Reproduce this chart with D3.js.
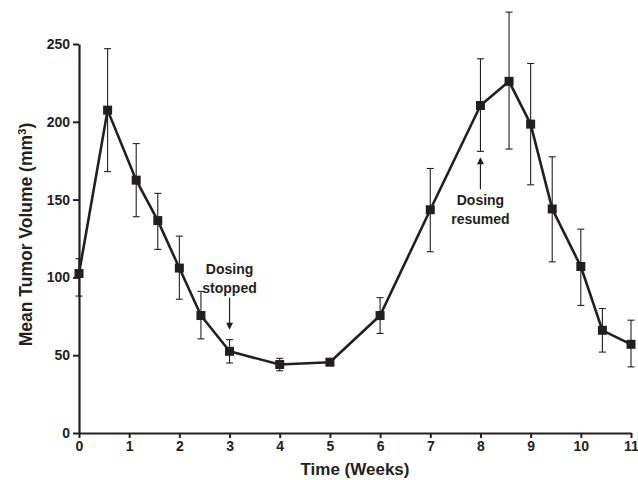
<!DOCTYPE html>
<html>
<head>
<meta charset="utf-8">
<script src="https://cdn.jsdelivr.net/npm/d3@7"></script>
<style>
  body { margin: 0; background: #fff; }
  svg { display: block; }
  text { font-family: "Liberation Sans", Arial, Helvetica, sans-serif; font-weight: bold; fill: #231f20; }
</style>
</head>
<body>
<svg id="chart" width="638" height="480"></svg>
<script>
// Time points (weeks) and mean tumor volume with error-bar bounds (mm^3)
const weeks = [0, 0.57, 1.14, 1.57, 2, 2.43, 3, 4, 5, 6, 7, 8, 8.57, 9, 9.43, 10, 10.43, 11];
const meanVolume = [102.5, 207.5, 162.5, 136.5, 106, 75.5, 52.5, 44, 45.5, 75.5, 143.5, 210.5, 226, 198.5, 144, 107, 66, 57];
const upperBound = [112, 247, 186, 154, 126.5, 91, 60, 48, 47.5, 87, 170, 240.5, 270.5, 237.5, 177.5, 131, 80, 72.5];
const lowerBound = [88, 168, 139, 118, 86, 60.5, 45, 40, 44, 64, 116.5, 181, 182.5, 159.5, 110, 82, 52, 42.5];

const xTicks = [0, 1, 2, 3, 4, 5, 6, 7, 8, 9, 10, 11];
const yTicks = [0, 50, 100, 150, 200, 250];

// Annotated events: week, label lines, arrow direction
const annotations = [
  { week: 3, lines: ["Dosing", "stopped"], dir: "down" },
  { week: 8, lines: ["Dosing", "resumed"], dir: "up" }
];

const ink = "#231f20";
const svg = d3.select("#chart");
const margin = { left: 79, right: 7, top: 44, bottom: 47 };
const W = 638, H = 480;

const x = d3.scaleLinear().domain([0, 11]).range([margin.left, W - margin.right]);
const y = d3.scaleLinear().domain([0, 250]).range([H - margin.bottom, margin.top]);

// Axes
const xAxis = svg.append("g")
  .attr("transform", `translate(0,${y(0)})`)
  .call(d3.axisBottom(x).tickValues(xTicks).tickSize(5).tickPadding(3).tickSizeOuter(0));
const yAxis = svg.append("g")
  .attr("transform", `translate(${x(0)},0)`)
  .call(d3.axisLeft(y).tickValues(yTicks).tickSize(6).tickPadding(3).tickSizeOuter(0));

[xAxis, yAxis].forEach(g => {
  g.select(".domain").attr("stroke", ink).attr("stroke-width", 2.2);
  g.selectAll(".tick line").attr("stroke", ink).attr("stroke-width", 2);
  g.selectAll(".tick text").attr("font-size", 14).attr("fill", ink)
    .style("font-family", '"Liberation Sans", Arial, sans-serif').style("font-weight", "bold");
});

// Axis titles
svg.append("text")
  .attr("x", (x(0) + x(11)) / 2).attr("y", 475)
  .attr("text-anchor", "middle").attr("font-size", 17)
  .text("Time (Weeks)");

const yTitle = svg.append("text")
  .attr("transform", `translate(32,${(y(0) + y(250)) / 2 - 4}) rotate(-90)`)
  .attr("text-anchor", "middle").attr("font-size", 17.5);
yTitle.append("tspan").text("Mean Tumor Volume (mm");
yTitle.append("tspan").attr("baseline-shift", "super").attr("font-size", 11.5).text("3");
yTitle.append("tspan").text(")");

const data = weeks.map((w, i) => ({ w, m: meanVolume[i], hi: upperBound[i], lo: lowerBound[i] }));

// Error bars
const eb = svg.append("g").attr("stroke", ink).attr("stroke-width", 1.1);
const cap = 3.5;
data.forEach(d => {
  eb.append("line").attr("x1", x(d.w)).attr("x2", x(d.w)).attr("y1", y(d.hi)).attr("y2", y(d.lo));
  eb.append("line").attr("x1", x(d.w) - cap).attr("x2", x(d.w) + cap).attr("y1", y(d.hi)).attr("y2", y(d.hi));
  eb.append("line").attr("x1", x(d.w) - cap).attr("x2", x(d.w) + cap).attr("y1", y(d.lo)).attr("y2", y(d.lo));
});

// Mean line
svg.append("path")
  .datum(data)
  .attr("fill", "none").attr("stroke", ink).attr("stroke-width", 2.6)
  .attr("stroke-linejoin", "round")
  .attr("d", d3.line().x(d => x(d.w)).y(d => y(d.m)));

// Square markers
const ms = 9;
svg.append("g").selectAll("rect").data(data).join("rect")
  .attr("x", d => x(d.w) - ms / 2).attr("y", d => y(d.m) - ms / 2)
  .attr("width", ms).attr("height", ms).attr("fill", ink);

// Dosing annotations with arrows
annotations.forEach(a => {
  const d = data.find(p => p.w === a.week);
  const cx = x(a.week);
  const g = svg.append("g");
  if (a.dir === "down") {
    const tip = y(d.hi) - 10;
    const start = tip - 32;
    g.append("line").attr("x1", cx).attr("x2", cx).attr("y1", start).attr("y2", tip - 6)
      .attr("stroke", ink).attr("stroke-width", 1.2);
    g.append("path").attr("d", `M${cx - 3.5},${tip - 7}L${cx + 3.5},${tip - 7}L${cx},${tip}Z`).attr("fill", ink);
    a.lines.forEach((t, i) => {
      g.append("text").attr("x", cx).attr("y", start - 23.5 + i * 18.5)
        .attr("text-anchor", "middle").attr("font-size", 14).text(t);
    });
  } else {
    const tip = y(d.lo) + 6;
    const end = tip + 32;
    g.append("line").attr("x1", cx).attr("x2", cx).attr("y1", tip + 6).attr("y2", end)
      .attr("stroke", ink).attr("stroke-width", 1.2);
    g.append("path").attr("d", `M${cx - 3.5},${tip + 7}L${cx + 3.5},${tip + 7}L${cx},${tip}Z`).attr("fill", ink);
    a.lines.forEach((t, i) => {
      g.append("text").attr("x", cx).attr("y", end + 16 + i * 18.5)
        .attr("text-anchor", "middle").attr("font-size", 14).text(t);
    });
  }
});
</script>
</body>
</html>
